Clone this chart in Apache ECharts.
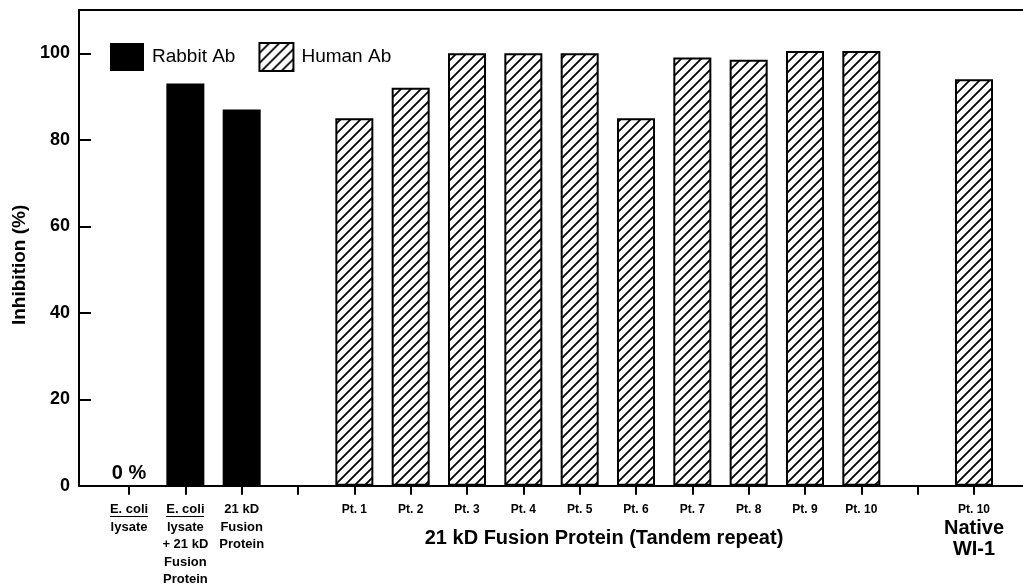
<!DOCTYPE html>
<html>
<head>
<meta charset="utf-8">
<script src="https://cdn.jsdelivr.net/npm/echarts@6/dist/echarts.min.js"></script>
<style>
  html, body { margin: 0; padding: 0; background: #fff; }
  #chart { width: 1023px; height: 586px; }
</style>
</head>
<body>
<div id="chart"></div>
<script>
// category slots along the x axis (empty strings are gaps)
const categories = [
  'ecoli', 'ecoliFusion', 'fusion', '',
  'Pt. 1', 'Pt. 2', 'Pt. 3', 'Pt. 4', 'Pt. 5', 'Pt. 6', 'Pt. 7', 'Pt. 8', 'Pt. 9', 'Pt. 10',
  '', 'native'
]
// Rabbit Ab (black bars)
const rabbitIdx = [0, 1, 2]
const rabbitVals = [0, 93, 87]
// Human Ab (hatched bars)
const humanIdx = [4, 5, 6, 7, 8, 9, 10, 11, 12, 13, 15]
const humanVals = [85, 92, 100, 100, 100, 85, 99, 98.5, 100.5, 100.5, 94]
const yTicks = [0, 20, 40, 60, 80, 100]

const FONT = '"Liberation Sans", Arial, Helvetica, sans-serif'

// diagonal hatch pattern
const makeHatch = () => {
  const c = document.createElement('canvas')
  c.width = 10
  c.height = 10
  const ctx = c.getContext('2d')
  ctx.fillStyle = '#fff'
  ctx.fillRect(0, 0, 10, 10)
  ctx.strokeStyle = '#000'
  ctx.lineWidth = 1.8
  ctx.beginPath()
  ctx.moveTo(-2, 12); ctx.lineTo(12, -2)
  ctx.moveTo(-2, 2); ctx.lineTo(2, -2)
  ctx.moveTo(8, 12); ctx.lineTo(12, 8)
  ctx.stroke()
  return c
}
// underline background for "E. coli"
const makeUnderline = () => {
  const c = document.createElement('canvas')
  c.width = 4
  c.height = 15
  const ctx = c.getContext('2d')
  ctx.fillStyle = '#000'
  ctx.fillRect(0, 14, 4, 1)
  return c
}
const hatch = makeHatch()
const uline = makeUnderline()

const chart = echarts.init(document.getElementById('chart'))

const labelFor = i => {
  const c = categories[i]
  if (c === 'ecoli') return '{u|E. coli}\n{a|lysate}'
  if (c === 'ecoliFusion') return '{u|E. coli}\n{a|lysate}\n{a|+ 21 kD}\n{a|Fusion}\n{a|Protein}'
  if (c === 'fusion') return '{a|21 kD}\n{a|Fusion}\n{a|Protein}'
  if (c === 'native') return '{p|Pt. 10}\n{b|Native}\n{b|WI-1}'
  return c ? '{p|' + c + '}' : ''
}

const xMin = -0.888
const xMax = 15.87

const option = {
  animation: false,
  backgroundColor: '#fff',
  textStyle: { fontFamily: FONT, color: '#000' },
  grid: {
    left: 79,
    top: 10,
    right: 0,
    height: 477,
    containLabel: false
  },
  legend: {
    left: 105,
    top: 37,
    icon: 'rect',
    itemWidth: 34,
    itemHeight: 28,
    itemGap: 23,
    textStyle: { fontSize: 19, color: '#000', fontFamily: FONT, padding: [0, 0, 0, 3] },
    data: [
      { name: 'Rabbit Ab', itemStyle: { color: '#000', borderWidth: 0 } },
      { name: 'Human Ab', itemStyle: { color: { image: hatch, repeat: 'repeat' }, borderColor: '#000', borderWidth: 2 } }
    ]
  },
  title: {
    text: '21 kD Fusion Protein (Tandem repeat)',
    left: 599,
    top: 523,
    textAlign: 'center',
    textStyle: { fontSize: 20, fontWeight: 'bold', color: '#000', fontFamily: FONT }
  },
  xAxis: [
    {
      type: 'value',
      min: xMin,
      max: xMax,
      splitLine: { show: false },
      axisLine: { show: true, lineStyle: { color: '#000', width: 2 } },
      axisTick: {
        show: true,
        inside: false,
        length: 9,
        lineStyle: { color: '#000', width: 2 },
        customValues: categories.map((c, i) => i)
      },
      axisLabel: {
        margin: 15,
        customValues: categories.map((c, i) => i),
        formatter: v => labelFor(Math.round(v)),
        rich: {
          a: { fontSize: 13, fontWeight: 'bold', lineHeight: 17.5, color: '#000', fontFamily: FONT },
          p: { fontSize: 12, fontWeight: 'bold', lineHeight: 17.5, color: '#000', fontFamily: FONT },
          u: {
            fontSize: 13, fontWeight: 'bold', lineHeight: 17.5, color: '#000', fontFamily: FONT,
            height: 15, backgroundColor: { image: uline }
          },
          b: { fontSize: 20, fontWeight: 'bold', lineHeight: 21, color: '#000', fontFamily: FONT }
        }
      }
    },
    {
      // top frame line
      type: 'value',
      position: 'top',
      min: xMin,
      max: xMax,
      splitLine: { show: false },
      axisLine: { show: true, lineStyle: { color: '#000', width: 2 } },
      axisTick: { show: false },
      axisLabel: { show: false }
    }
  ],
  yAxis: {
    type: 'value',
    min: 0,
    max: 110,
    interval: 20,
    name: 'Inhibition (%)',
    nameLocation: 'middle',
    nameRotate: 90,
    nameGap: 50,
    nameTextStyle: { fontSize: 19, fontWeight: 'bold', color: '#000', fontFamily: FONT, padding: [0, 0, 0, -34] },
    splitLine: { show: false },
    axisLine: { show: true, onZero: false, lineStyle: { color: '#000', width: 2 } },
    axisTick: { show: true, inside: true, length: 12, lineStyle: { color: '#000', width: 2 } },
    axisLabel: {
      margin: 9,
      fontSize: 18,
      fontWeight: 'bold',
      color: '#000',
      fontFamily: FONT,
      showMaxLabel: false,
      formatter: v => (yTicks.includes(v) ? String(v) : '')
    }
  },
  series: [
    {
      name: 'Rabbit Ab',
      type: 'bar',
      xAxisIndex: 0,
      barWidth: 38,
      barGap: '-100%',
      itemStyle: { color: '#000' },
      data: rabbitIdx.map((x, i) => {
        const d = { value: [x, rabbitVals[i]] }
        if (rabbitVals[i] === 0) {
          d.label = {
            show: true,
            position: 'top',
            distance: 2,
            formatter: '0 %',
            fontSize: 20,
            fontWeight: 'bold',
            color: '#000',
            fontFamily: FONT
          }
        }
        return d
      })
    },
    {
      name: 'Human Ab',
      type: 'bar',
      xAxisIndex: 0,
      barWidth: 38,
      barGap: '-100%',
      itemStyle: {
        color: { image: hatch, repeat: 'repeat' },
        borderColor: '#000',
        borderWidth: 2
      },
      data: humanIdx.map((x, i) => [x, humanVals[i]])
    }
  ]
}

chart.setOption(option)
</script>
</body>
</html>
